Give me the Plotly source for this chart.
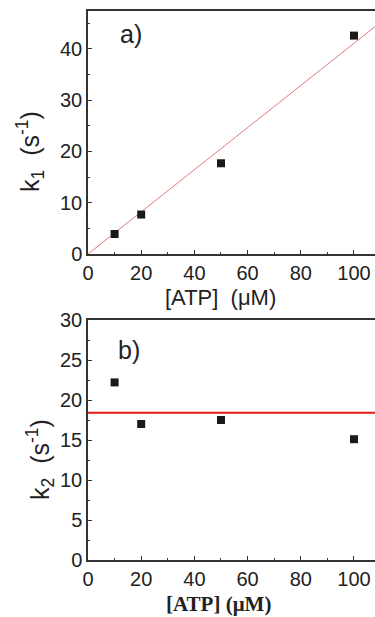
import plotly.graph_objects as go

# Data
atp = [10, 20, 50, 100]
k1 = [3.9, 7.7, 17.7, 42.6]
k2 = [22.2, 17.0, 17.5, 15.1]
k1_slope = 0.411   # linear fit through origin (s^-1 per uM)
k2_mean = 18.4     # constant fit level
fit_x = [0, 110]

fit_k1 = [k1_slope * x for x in fit_x]
fit_k2 = [k2_mean for _ in fit_x]

W, H = 375, 617
def ydom(top_px, bot_px):
    return [1 - bot_px / H, 1 - top_px / H]

sans = "Liberation Sans Narrow, Liberation Sans, Arial, sans-serif"
serif = "Liberation Serif, Times New Roman, serif"

fig = go.Figure()
fig.add_trace(go.Scatter(x=fit_x, y=fit_k1, mode="lines", line=dict(color="#e07a7a", width=1),
                         xaxis="x", yaxis="y", showlegend=False, hoverinfo="skip"))
fig.add_trace(go.Scatter(x=atp, y=k1, mode="markers",
                         marker=dict(symbol="square", size=8, color="#1a1a1a"),
                         xaxis="x", yaxis="y", showlegend=False))
fig.add_trace(go.Scatter(x=fit_x, y=fit_k2, mode="lines", line=dict(color="#e01818", width=2),
                         xaxis="x2", yaxis="y2", showlegend=False, hoverinfo="skip"))
fig.add_trace(go.Scatter(x=atp, y=k2, mode="markers",
                         marker=dict(symbol="square", size=8, color="#1a1a1a"),
                         xaxis="x2", yaxis="y2", showlegend=False))

xcommon = dict(range=[0, 107.9], domain=[88 / W, 1.0], showline=True, linecolor="#333",
               linewidth=1.5, mirror=True, ticks="inside", ticklen=4, tickcolor="#333",
               tickmode="array", tickvals=[0, 20, 40, 60, 80, 100], showgrid=False,
               zeroline=False, automargin=False, tickfont=dict(family=sans, size=20, color="#222"),
               minor=dict(ticks="inside", ticklen=2, tickcolor="#333", dtick=10, tick0=0))
ycommon = dict(showline=True, linecolor="#333", linewidth=1.5, mirror=False,
               ticks="inside", ticklen=4, tickcolor="#333", showgrid=False, zeroline=False,
               automargin=False, tickfont=dict(family=sans, size=20, color="#222"))

fig.update_layout(
    width=W, height=H, margin=dict(l=0, r=0, t=0, b=0),
    paper_bgcolor="white", plot_bgcolor="white",
    xaxis=dict(xcommon, anchor="y"),
    yaxis=dict(ycommon, anchor="x", domain=ydom(11, 254), range=[0, 47.4],
               tickvals=[0, 10, 20, 30, 40],
               minor=dict(ticks="inside", ticklen=2, tickcolor="#333", dtick=5, tick0=0)),
    xaxis2=dict(xcommon, anchor="y2"),
    yaxis2=dict(ycommon, anchor="x2", domain=ydom(320, 560), range=[0, 30],
                tickvals=[0, 5, 10, 15, 20, 25, 30],
                minor=dict(ticks="inside", ticklen=2, tickcolor="#333", dtick=2.5, tick0=0)),
)

# annotations placed by pixel position, converted to paper coordinates
ann_specs = [
    ("a)", 131, 34, 0, sans, 25),
    ("b)", 129, 350, 0, sans, 25),
    ("k<sub>1</sub>  (s<sup>-1</sup>)", 30, 152, -90, sans, 25),
    ("k<sub>2</sub>  (s<sup>-1</sup>)", 40, 460, -90, sans, 25),
    ("[ATP]  (\u03bcM)", 220, 297, 0, sans, 22),
    ("<b>[ATP] (\u03bcM)</b>", 218, 604, 0, serif, 21),
]
for text, px, py, ang, fam, size in ann_specs:
    fig.add_annotation(text=text, x=px / W, y=1 - py / H, xref="paper", yref="paper",
                       xanchor="center", yanchor="middle", textangle=ang, showarrow=False,
                       font=dict(family=fam, size=size, color="#222"))

fig.write_html("out.html", config={"displayModeBar": False},
               post_script="document.body.style.margin='0';")
